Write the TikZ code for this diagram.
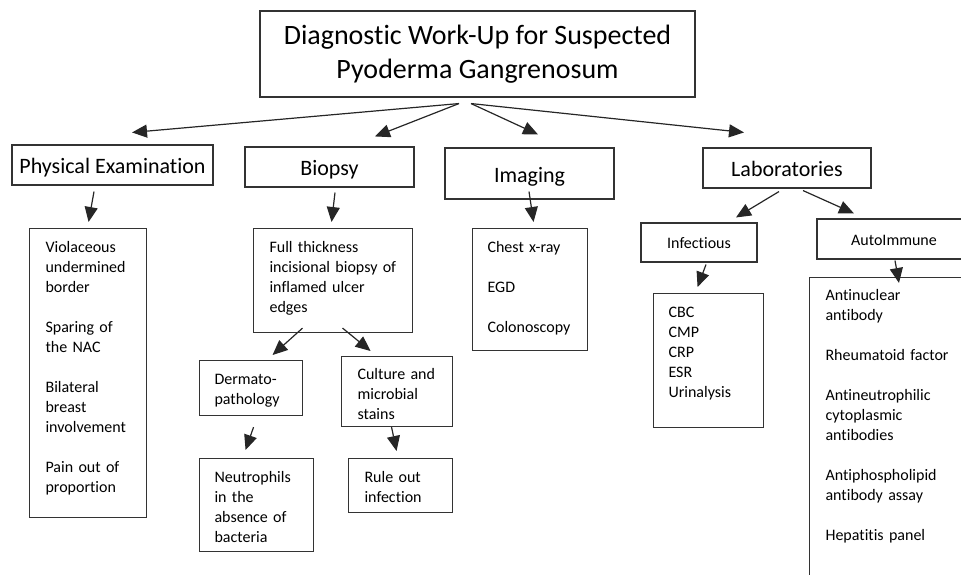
\documentclass[tikz,border=0pt]{standalone}
\usepackage{fontspec}
\setmainfont{Carlito}[Ligatures=NoCommon]
\usetikzlibrary{arrows.meta, positioning, calc}

\tikzset{
  headbox/.style={draw=black!80, line width=1.1pt, align=center, inner sep=0pt,
    font=\fontsize{28}{34}\selectfont},
  mainbox/.style={draw=black!80, line width=1.1pt, inner sep=0pt, minimum height=40pt,
    text height=17pt, text depth=0pt, font=\fontsize{22}{26}\selectfont},
  subbox/.style={draw=black!80, line width=1.1pt, inner sep=0pt, minimum height=40pt,
    text height=12pt, text depth=0pt, font=\fontsize{16}{20}\selectfont},
  listbox/.style={draw=black!80, line width=1.1pt, anchor=north west, align=left,
    inner ysep=0pt, inner xsep=16pt, font=\fontsize{16}{20}\selectfont},
  arr/.style={-{Triangle[length=15pt,width=13pt]}, line width=1.2pt, black!85}
}

\begin{document}
\begin{tikzpicture}[x=1pt,y=-1pt]
\useasboundingbox (0,0) rectangle (961,574);
\clip (0,0) rectangle (961,574);
% Title
\node[headbox, minimum width=435pt, minimum height=86pt] (title) at (477.5,54)
  {Diagnostic Work-Up for Suspected\\Pyoderma Gangrenosum};
% First level
\node[mainbox, minimum width=201pt] (phys) at (112.5,165) {Physical Examination};
\node[mainbox, minimum width=169pt] (biopsy) at (329.5,167) {Biopsy};
\node[mainbox, minimum width=169pt, minimum height=51pt] (imaging) at (529.5,173.5) {Imaging};
\node[mainbox, minimum width=168pt] (labs) at (787,168) {Laboratories};
% Laboratories branches
\node[subbox, minimum width=116pt, minimum height=39pt] (infect) at (699,242.5) {Infectious};
\node[subbox, minimum width=154pt] (auto) at (894,239) {AutoImmune};
% Lists
\node[listbox, text width=85pt, text height=24pt, text depth=265pt] (physlist) at (29,228)
  {Violaceous\\undermined\\border\\[20pt]Sparing of\\the NAC\\[20pt]Bilateral\\breast\\involvement\\[20pt]Pain out of\\proportion};
\node[listbox, text width=127pt, text height=24pt, text depth=80pt] (full) at (253,228)
  {Full thickness\\incisional biopsy of\\inflamed ulcer\\edges};
\node[listbox, inner xsep=15pt, text width=73pt, text height=24pt, text depth=31pt] (dermato) at (199,360)
  {Dermato-\\pathology};
\node[listbox, text width=79pt, text height=23pt, text depth=47pt] (culture) at (341,356)
  {Culture and\\microbial\\stains};
\node[listbox, inner xsep=15pt, text width=84pt, text height=24pt, text depth=69pt] (neutro) at (199,458)
  {Neutrophils\\in the\\absence of\\bacteria};
\node[listbox, text width=72pt, text height=24pt, text depth=30pt] (rule) at (348,458)
  {Rule out\\infection};
\node[listbox, inner xsep=15pt, text width=85pt, text height=24pt, text depth=98pt] (chest) at (472,228)
  {Chest x-ray\\[20pt]EGD\\[20pt]Colonoscopy};
\node[listbox, inner xsep=15pt, text width=80pt, text height=24pt, text depth=110pt] (cbc) at (653,293)
  {CBC\\CMP\\CRP\\ESR\\Urinalysis};
\node[listbox, text width=149pt, text height=23pt, text depth=320pt] (autolist) at (809,277)
  {Antinuclear\\antibody\\[20pt]Rheumatoid factor\\[20pt]Antineutrophilic\\cytoplasmic\\antibodies\\[20pt]Antiphospholipid\\antibody assay\\[20pt]Hepatitis panel};
% Arrows
\draw[arr] ([xshift=-18.5pt,yshift=-6pt]title.south) -- ([xshift=19.5pt,yshift=12pt]phys.north);
\draw[arr] ([xshift=-18.5pt,yshift=-6pt]title.south) -- ([xshift=45.5pt,yshift=10pt]biopsy.north);
\draw[arr] ([xshift=-6.5pt,yshift=-6pt]title.south) -- ([xshift=8.5pt,yshift=13pt]imaging.north);
\draw[arr] ([xshift=-6.5pt,yshift=-6pt]title.south) -- ([xshift=-43pt,yshift=15pt]labs.north);
\draw[arr] ([xshift=-18.5pt,yshift=-6pt]phys.south) -- ([xshift=0.5pt,yshift=6pt]physlist.north);
\draw[arr] ([xshift=5.5pt,yshift=-5pt]biopsy.south) -- ([xshift=-1.5pt,yshift=6pt]full.north);
\draw[arr] ([xshift=-30.5pt,yshift=5pt]full.south) -- ([xshift=21.5pt,yshift=5pt]dermato.north);
\draw[arr] ([xshift=9.5pt,yshift=5pt]full.south) -- ([xshift=-26.5pt,yshift=5pt]culture.north);
\draw[arr] ([xshift=2.5pt,yshift=-11pt]dermato.south) -- ([xshift=-11pt,yshift=8pt]neutro.north);
\draw[arr] ([xshift=-5.5pt]culture.south) -- ([xshift=-4pt,yshift=7pt]rule.north);
\draw[arr] ([xshift=-0.5pt,yshift=8pt]imaging.south) -- ([xshift=3.5pt,yshift=6pt]chest.north);
\draw[arr] ([xshift=-8pt,yshift=-3pt]labs.south) -- ([xshift=37pt,yshift=5pt]infect.north);
\draw[arr] ([xshift=16pt,yshift=-2pt]labs.south) -- ([xshift=-40pt,yshift=5pt]auto.north);
\draw[arr] ([xshift=7pt,yshift=-2pt]infect.south) -- ([xshift=-11pt,yshift=6pt]cbc.north);
\draw[arr] ([xshift=1pt,yshift=-1pt]auto.south) -- ([xshift=90pt,yshift=-6pt]autolist.north west);
\end{tikzpicture}
\end{document}
